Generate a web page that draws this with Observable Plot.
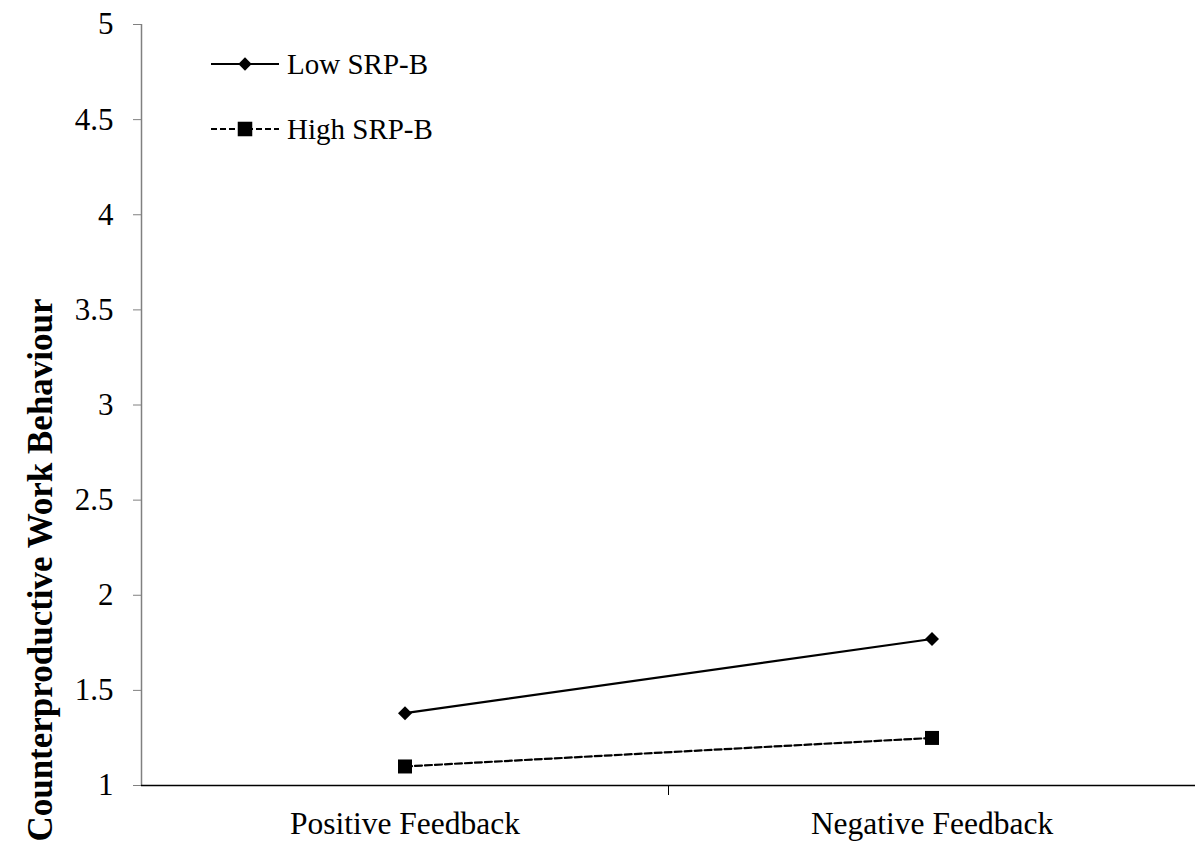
<!DOCTYPE html>
<html>
<head>
<meta charset="utf-8">
<script src="https://cdn.jsdelivr.net/npm/d3@7"></script>
<script src="https://cdn.jsdelivr.net/npm/@observablehq/plot@0.6"></script>
<style>
  html, body { margin: 0; padding: 0; background: #fff; }
  #wrap { position: relative; width: 1196px; height: 850px; font-family: "Liberation Serif", "Times New Roman", serif; }
  #wrap svg { position: absolute; left: 0; top: 0; }
</style>
</head>
<body>
<div id="wrap"></div>
<script>
const categories = ["Positive Feedback", "Negative Feedback"];
const seriesNames = ["Low SRP-B", "High SRP-B"];
const lowValues = [1.38, 1.77];
const highValues = [1.10, 1.25];
const yTicks = [1, 1.5, 2, 2.5, 3, 3.5, 4, 4.5, 5];
const yTitle = "Counterproductive Work Behaviour";

const FONT = "'Liberation Serif', 'Times New Roman', serif";

const data = [];
categories.forEach((c, i) => {
  data.push({series: seriesNames[0], cat: c, idx: i + 0.5, value: lowValues[i]});
  data.push({series: seriesNames[1], cat: c, idx: i + 0.5, value: highValues[i]});
});
const low = data.filter(d => d.series === seriesNames[0]);
const high = data.filter(d => d.series === seriesNames[1]);

const plot = Plot.plot({
  width: 1196,
  height: 850,
  marginLeft: 141,
  marginRight: 1,
  marginTop: 24,
  marginBottom: 65,
  style: {fontFamily: FONT, fontSize: "31px", color: "#000", background: "transparent"},
  x: {domain: [0, categories.length], axis: null},
  y: {domain: [1, 5], axis: null},
  marks: [
    // y axis
    Plot.ruleX([0], {stroke: "#808080", strokeWidth: 1.5}),
    Plot.axisY({ticks: yTicks, tickSize: 8, tickPadding: 20, stroke: "#808080", tickFormat: d => String(d), fontSize: 31, fill: "#000", label: null}),
    // x axis
    Plot.ruleY([1], {stroke: "#000", strokeWidth: 1.5}),
    Plot.axisX({ticks: d3.range(1, categories.length), tickSize: 10, tickFormat: () => "", stroke: "#000", label: null}),
    Plot.axisX({ticks: categories.map((c, i) => i + 0.5), tickSize: 0, tickPadding: 26, tickFormat: v => categories[Math.floor(v)], fontSize: 31.5, fill: "#000", label: null}),
    // series
    Plot.line(low, {x: "idx", y: "value", stroke: "#000", strokeWidth: 2.2}),
    Plot.line(high, {x: "idx", y: "value", stroke: "#000", strokeWidth: 2.2, strokeDasharray: "7,3"}),
    Plot.dot(low, {x: "idx", y: "value", symbol: "diamond2", r: 6.3, fill: "#000", stroke: "none"}),
    Plot.dot(high, {x: "idx", y: "value", symbol: "square", r: 7.9, fill: "#000", stroke: "none"})
  ]
});
document.getElementById("wrap").appendChild(plot);

// Legend and y title overlay
const svg = d3.select("#wrap").append("svg")
  .attr("width", 1196).attr("height", 850)
  .style("pointer-events", "none");

const legendItems = [
  {name: seriesNames[0], dash: null, symbol: d3.symbolDiamond2, size: Math.PI * 6.0 * 6.0, y: 64},
  {name: seriesNames[1], dash: "6,3", symbol: d3.symbolSquare, size: Math.PI * 8.2 * 8.2, y: 129}
];
legendItems.forEach(it => {
  const g = svg.append("g");
  g.append("line").attr("x1", 211).attr("x2", 279).attr("y1", it.y).attr("y2", it.y)
    .attr("stroke", "#000").attr("stroke-width", 2.2).attr("stroke-dasharray", it.dash);
  g.append("path").attr("d", d3.symbol(it.symbol, it.size)()).attr("transform", `translate(245,${it.y})`).attr("fill", "#000");
  g.append("text").attr("x", 287).attr("y", it.y).attr("dy", "0.35em")
    .style("font-family", FONT).style("font-size", "29px").text(it.name);
});

svg.append("text")
  .attr("transform", "translate(52,570) rotate(-90)")
  .attr("text-anchor", "middle")
  .style("font-family", FONT)
  .style("font-size", "35px").style("font-weight", "bold")
  .text(yTitle);
</script>
</body>
</html>
